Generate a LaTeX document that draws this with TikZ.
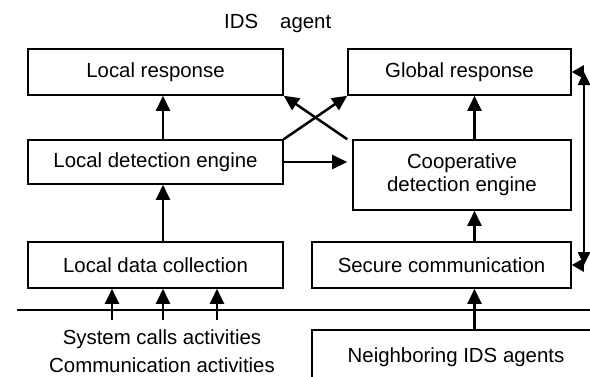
\documentclass[tikz,border=0pt]{standalone}
\usepackage{fontspec}
\setmainfont{Liberation Sans}
\usetikzlibrary{arrows.meta}

\begin{document}
\begin{tikzpicture}[x=1pt,y=-1pt,
  box/.style={draw, line width=1.6pt, inner sep=0pt, align=center,
              font=\fontsize{20.4}{23}\selectfont},
  lbl/.style={inner sep=0pt, font=\fontsize{20.4}{23}\selectfont},
  arr/.style={line width=2.5pt, -{Triangle[length=15pt,width=14pt]}},
  dblarr/.style={line width=2.5pt, {Triangle[length=13pt,width=12pt]}-{Triangle[length=13pt,width=12pt]}},
  sidearr/.style={line width=2.5pt, -{Triangle[length=12pt,width=13pt]}},
  rule/.style={line width=1.5pt}]
\clip (0,0) rectangle (590,376);

% agent components
\node[box, minimum width=255pt, minimum height=46pt] (lr)   at (155.5,72)  {Local response};
\node[box, minimum width=223pt, minimum height=46pt] (gr)   at (459.5,72)  {Global response};
\node[box, minimum width=255pt, minimum height=44pt] (lde)  at (155.5,162) {Local detection engine};
\node[box, minimum width=218pt, minimum height=70pt] (coop) at (462,175)   {Cooperative\\detection engine};
\node[box, minimum width=255pt, minimum height=46pt] (ldc)  at (155.5,265) {Local data collection};
\node[box, minimum width=259pt, minimum height=46pt] (sc)   at (441.5,265) {Secure communication};
\node[box, minimum width=288pt, minimum height=54pt] (nb)   at (456,357)   {Neighboring IDS agents};

% labels
\node[lbl, anchor=base west] (title) at (224,28.5) {IDS\hspace{22pt}agent};
\node[lbl, anchor=base] (sys)  at (162,344) {System calls activities};
\node[lbl, anchor=base] (comm) at (162,372) {Communication activities};

% reference x positions
\coordinate (xl) at (163,0);
\coordinate (xr) at (474.5,0);
\coordinate (x1) at (112,0);
\coordinate (x2) at (163,0);
\coordinate (x3) at (217,0);
\coordinate (xs) at (584,0);
\coordinate (ybot) at (0,320);

% boundary of the agent
\coordinate (hl0) at (17,310);
\coordinate (hl1) at (595,310);
\draw[rule] (hl0) -- (hl1);

% local chain
\draw[arr] (ldc.north -| xl) -- (lde.south -| xl);
\draw[arr] (lde.north -| xl) -- (lr.south -| xl);
% cooperative chain
\draw[arr] (nb.north -| xr) -- (sc.south -| xr);
\draw[arr] (sc.north -| xr) -- (coop.south -| xr);
\draw[arr] (coop.north -| xr) -- (gr.south -| xr);
% cross links
\draw[arr, shorten >=5pt] (lde.east) -- (coop.west |- lde.east);
\draw[arr] (lde.north east) -- (gr.south west);
\draw[arr] ([xshift=-5pt]coop.north west) -- (lr.south east);
% inputs
\draw[arr] (ybot -| x1) -- (ldc.south -| x1);
\draw[arr] (ybot -| x2) -- (ldc.south -| x2);
\draw[arr] (ybot -| x3) -- (ldc.south -| x3);
% response <-> communication
\coordinate (rt) at (gr.east -| xs);
\coordinate (rb) at (sc.east -| xs);
\draw[dblarr] (rt) -- (rb);
\draw[sidearr] (rt) -- (gr.east);
\draw[sidearr] (rb) -- (sc.east);
\end{tikzpicture}
\end{document}
